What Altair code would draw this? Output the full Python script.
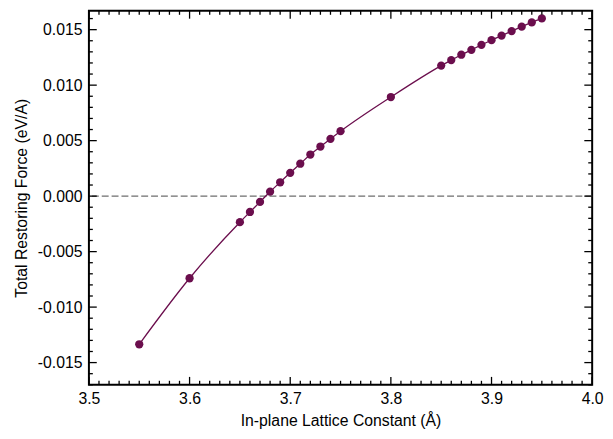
import altair as alt
import pandas as pd

# ---- data ----
lattice = [3.55, 3.60, 3.65, 3.66, 3.67, 3.68, 3.69, 3.70, 3.71, 3.72, 3.73,
           3.74, 3.75, 3.80, 3.85, 3.86, 3.87, 3.88, 3.89, 3.90, 3.91, 3.92,
           3.93, 3.94, 3.95]
force = [-0.01335, -0.00740, -0.00235, -0.00143, -0.00052, 0.00040, 0.00125,
         0.00210, 0.00292, 0.00375, 0.00447, 0.00516, 0.00585, 0.00893,
         0.01176, 0.01226, 0.01274, 0.01318, 0.01363, 0.01405, 0.01447,
         0.01487, 0.01527, 0.01565, 0.01601]
zero_line = [0.0]

x_major = [3.5, 3.6, 3.7, 3.8, 3.9, 4.0]
x_minor = [round(3.5 + 0.01 * i, 2) for i in range(51)]
y_major = [-0.015, -0.010, -0.005, 0.0, 0.005, 0.010, 0.015]
y_minor = [round(-0.017 + 0.001 * i, 3) for i in range(34)]

X_MIN, X_MAX = 3.5, 4.0
Y_MIN, Y_MAX = -0.017, 0.0167

# tick lengths expressed in data units (major ~8px, minor ~4px)
XLEN_MAJOR, XLEN_MINOR = 0.0078, 0.0039
YLEN_MAJOR, YLEN_MINOR = 0.00071, 0.00036

df = pd.DataFrame({"a": lattice, "f": force})
zdf = pd.DataFrame({"z": zero_line})

x_is_major = [any(abs(v - m) < 1e-9 for m in x_major) for v in x_minor]
y_is_major = [any(abs(v - m) < 1e-9 for m in y_major) for v in y_minor]
xlen = [YLEN_MAJOR if m else YLEN_MINOR for m in x_is_major]
ylen = [XLEN_MAJOR if m else XLEN_MINOR for m in y_is_major]

bottom_ticks = pd.DataFrame({"v": x_minor, "p0": [Y_MIN] * len(x_minor),
                             "p1": [Y_MIN + l for l in xlen]})
top_ticks = pd.DataFrame({"v": x_minor, "p0": [Y_MAX] * len(x_minor),
                          "p1": [Y_MAX - l for l in xlen]})
left_ticks = pd.DataFrame({"v": y_minor, "p0": [X_MIN] * len(y_minor),
                           "p1": [X_MIN + l for l in ylen]})
right_ticks = pd.DataFrame({"v": y_minor, "p0": [X_MAX] * len(y_minor),
                            "p1": [X_MAX - l for l in ylen]})

FONT = "Liberation Sans"
PURPLE = "#6b0e4d"

xscale = alt.Scale(domain=[X_MIN, X_MAX], nice=False, zero=False)
yscale = alt.Scale(domain=[Y_MIN, Y_MAX], nice=False, zero=False)

x_label_axis = alt.Axis(orient="bottom", values=x_major, format=".1f",
                        tickSize=0, ticks=False, domain=False, grid=False,
                        labelPadding=6, labelFlush=False, labelOverlap=False,
                        title="In-plane Lattice Constant (Å)", titlePadding=6,
                        labelFont=FONT, titleFont=FONT, labelFontSize=16,
                        titleFontSize=16, titleFontWeight="normal",
                        labelColor="black", titleColor="black")

y_label_axis = alt.Axis(orient="left", values=y_major,
                        labelExpr="datum.value < 0 ? '-' + format(-datum.value, '.3f') : format(datum.value, '.3f')",
                        tickSize=0, ticks=False, domain=False, grid=False,
                        labelPadding=7, labelFlush=False, labelOverlap=False,
                        title="Total Restoring Force (eV/A)", titlePadding=8,
                        labelFont=FONT, titleFont=FONT, labelFontSize=16,
                        titleFontSize=16, titleFontWeight="normal",
                        labelColor="black", titleColor="black")

rule = alt.Chart(zdf).mark_rule(color="#6e6e6e", strokeDash=[7, 3],
                                strokeWidth=1.3).encode(
    y=alt.Y("z:Q", scale=yscale, axis=y_label_axis)
)

line = alt.Chart(df).mark_line(color=PURPLE, strokeWidth=1.3,
                               interpolate="monotone").encode(
    x=alt.X("a:Q", scale=xscale, axis=x_label_axis),
    y=alt.Y("f:Q", scale=yscale, axis=None),
)

points = alt.Chart(df).mark_circle(color=PURPLE, size=70, opacity=1).encode(
    x=alt.X("a:Q", scale=xscale, axis=None),
    y=alt.Y("f:Q", scale=yscale, axis=None),
)


def xticks(data):
    return alt.Chart(data).mark_rule(color="black", strokeWidth=1.3).encode(
        x=alt.X("v:Q", scale=xscale, axis=None),
        y=alt.Y("p0:Q", scale=yscale, axis=None),
        y2="p1:Q",
    )


def yticks(data):
    return alt.Chart(data).mark_rule(color="black", strokeWidth=1.3).encode(
        y=alt.Y("v:Q", scale=yscale, axis=None),
        x=alt.X("p0:Q", scale=xscale, axis=None),
        x2="p1:Q",
    )


chart = alt.layer(
    rule, line, points,
    xticks(bottom_ticks), xticks(top_ticks),
    yticks(left_ticks), yticks(right_ticks),
).resolve_axis(
    x="independent", y="independent"
).properties(
    width=510, height=379,
    autosize=alt.AutoSizeParams(type="none"),
    padding={"left": 82, "top": 0, "right": 13, "bottom": 44},
).configure_view(
    stroke="black", strokeWidth=2
)

chart.save("out.html", embed_options={"renderer": "svg", "actions": False})
